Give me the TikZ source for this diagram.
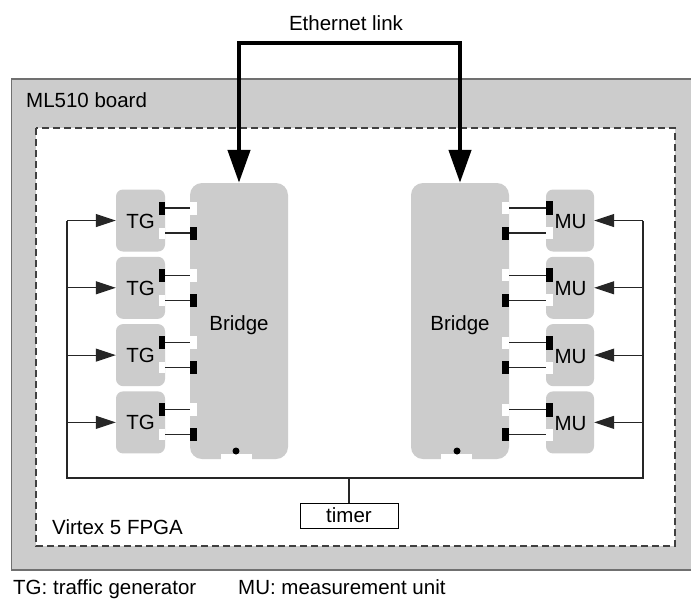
\documentclass[tikz,border=0pt]{standalone}
\usepackage{fontspec}
\setmainfont{Liberation Sans}
\usetikzlibrary{arrows.meta}
\definecolor{boxgrey}{HTML}{CCCCCC}
\definecolor{edgegrey}{HTML}{707070}
\definecolor{dashgrey}{HTML}{404040}
\tikzset{
  txt/.style={inner sep=0pt, font=\fontsize{20.5}{24}\selectfont},
  blockbox/.style={fill=boxgrey, draw=none, inner sep=0pt},
  unitbox/.style={blockbox, minimum width=49pt, minimum height=62pt, rounded corners=7pt},
  bridgebox/.style={blockbox, minimum width=98pt, minimum height=276pt, rounded corners=12pt},
  portblack/.style={fill=black, draw=none, inner sep=0pt, minimum width=7pt, minimum height=13pt},
  portwhite/.style={fill=white, draw=none, inner sep=0pt, minimum width=7pt, minimum height=12pt},
  wire/.style={line width=1.1pt, draw=black!85},
  feed/.style={line width=1.1pt, draw=black!85, -{Triangle[length=20pt, width=13pt]}},
  eth/.style={line width=4.5pt, line join=miter,
    {Triangle[length=33pt, width=22pt]}-{Triangle[length=33pt, width=22pt]}},
}
\begin{document}
\begin{tikzpicture}[x=1pt, y=-1pt]
  \useasboundingbox (0,0) rectangle (691,598);
  \clip (0,0) rectangle (691,598);

  % board and FPGA outlines
  \path[fill=boxgrey, draw=edgegrey, line width=1.2pt] (11.5,79) rectangle (710,570);
  \path[fill=white, draw=dashgrey, line width=1.1pt, dash pattern=on 7pt off 4pt] (36,128) rectangle (675,546);
  \node[txt, anchor=base west] (board) at (26,107) {ML510 board};
  \node[txt, anchor=base west] (fpga) at (52,534) {Virtex 5 FPGA};

  % the two bridges
  \node[bridgebox] (brA) at (239,321) {};
  \node[bridgebox] (brB) at (460,321) {};
  \node[txt, anchor=base] (brAl) at (239,330) {Bridge};
  \node[txt, anchor=base] (brBl) at (460,330) {Bridge};
  \node[fill=white, inner sep=0pt, minimum width=31pt, minimum height=6pt] (ntA) at (236.5,456.5) {};
  \node[fill=white, inner sep=0pt, minimum width=31pt, minimum height=6pt] (ntB) at (456.5,456.5) {};
  \node[circle, fill=black, inner sep=0pt, minimum size=7pt] (dtA) at (236,451) {};
  \node[circle, fill=black, inner sep=0pt, minimum size=7pt] (dtB) at (457,451) {};

  % trunk corners
  \coordinate (tl) at (67,478);
  \coordinate (tr) at (643,478);

  % traffic generators and measurement units
  \foreach \i in {0,1,2,3} {
    \pgfmathsetmacro{\c}{220.5+67.3*\i}
    \node[unitbox] (tg\i) at (140.5,\c) {};
    \node[txt, anchor=base] (tgl\i) at (140.5,\c+7.5) {TG};
    \node[unitbox, minimum width=48pt] (mu\i) at (570,\c) {};
    \node[txt, anchor=base] (mul\i) at (570.5,\c+8) {MU};
    % ports, left side
    \node[portblack, minimum width=6pt] (tgo\i) at (162,\c-12.5) {};
    \node[portwhite, minimum width=6pt, minimum height=11pt] (tgi\i) at (162,\c+12.5) {};
    \node[portwhite, minimum height=13pt] (bai\i) at (193.5,\c-12.5) {};
    \node[portblack] (bao\i) at (193.5,\c+12.5) {};
    % ports, right side
    \node[portwhite, minimum height=12pt] (bbi\i) at (505.5,\c-12.5) {};
    \node[portblack] (bbo\i) at (505.5,\c+12.5) {};
    \node[portblack, minimum height=14pt] (muo\i) at (549.5,\c-12.5) {};
    \node[portwhite] (mui\i) at (549.5,\c+12.5) {};
    % links between units and bridges
    \draw[wire] (tgo\i) -- (bai\i);
    \draw[wire] (tgi\i) -- (bao\i);
    \draw[wire] (bbi\i) -- (muo\i);
    \draw[wire] (bbo\i) -- (mui\i);
    % timer feeds
    \coordinate (fl\i) at (67,\c);
    \coordinate (fr\i) at (643,\c);
    \draw[feed] (fl\i) -- (tg\i.west);
    \draw[feed] (fr\i) -- (mu\i.east);
  }

  % timer and its distribution trunk
  \node[draw=black, line width=1pt, fill=white, inner sep=0pt, minimum width=98pt, minimum height=25pt,
        font=\fontsize{20.5}{24}\selectfont] (timer) at (349,515.5) {timer};
  \draw[wire] (fl0) -- (tl) -- (tr) -- (fr0);
  \draw[wire] (timer.north) -- (timer.north |- tl);

  % Ethernet link between the bridges
  \coordinate (ethy) at (0,43);
  \draw[eth] (brA.north) -- (brA.north |- ethy) -- (brB.north |- ethy) -- (brB.north);
  \node[txt, anchor=base] (ethl) at (346,30) {Ethernet link};

  % legend
  \node[txt, anchor=base west] (lgTG) at (13,594) {TG: traffic generator};
  \node[txt, anchor=base west] (lgMU) at (238,594) {MU: measurement unit};
\end{tikzpicture}
\end{document}
